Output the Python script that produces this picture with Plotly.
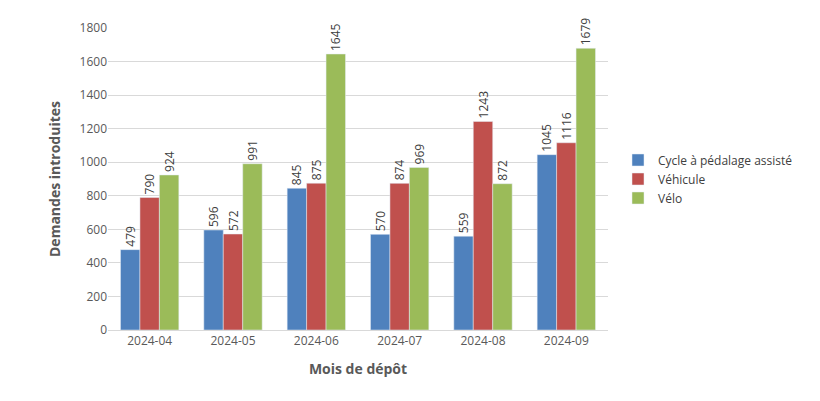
import plotly.graph_objects as go

months = ["2024-04", "2024-05", "2024-06", "2024-07", "2024-08", "2024-09"]
cycle = [479, 596, 845, 570, 559, 1045]
vehicule = [790, 572, 875, 874, 1243, 1116]
velo = [924, 991, 1645, 969, 872, 1679]

series = [
    ("Cycle à pédalage assisté", cycle, "#4F81BD"),
    ("Véhicule", vehicule, "#C0504D"),
    ("Vélo", velo, "#9BBB59"),
]

fig = go.Figure()
for name, vals, col in series:
    fig.add_trace(go.Bar(
        x=months, y=vals, name=name, marker_color=col,
        text=[str(v) for v in vals], textposition="outside",
        textangle=-90, textfont=dict(size=12, color="#404040"),
        cliponaxis=False,
    ))

fig.update_layout(
    width=820, height=401,
    margin=dict(l=100, r=220, t=20, b=79),
    plot_bgcolor="white", paper_bgcolor="white",
    font=dict(family="Open Sans, Arial", color="#595959", size=12),
    barmode="group", bargap=0.3, bargroupgap=0.0,
    uniformtext=dict(minsize=12, mode="show"),
    legend=dict(x=1.02, y=0.5, yanchor="middle", font=dict(size=12, color="#404040"),
                tracegroupgap=14),
    xaxis=dict(type="category",
               title=dict(text="<b>Mois de dépôt</b>", font=dict(size=14)),
               showline=True, linecolor="#D9D9D9"),
    yaxis=dict(title=dict(text="<b>Demandes introduites</b>", font=dict(size=14)),
               range=[0, 1800], dtick=200, gridcolor="#D9D9D9", zeroline=False),
)

fig.write_html("out.html")
